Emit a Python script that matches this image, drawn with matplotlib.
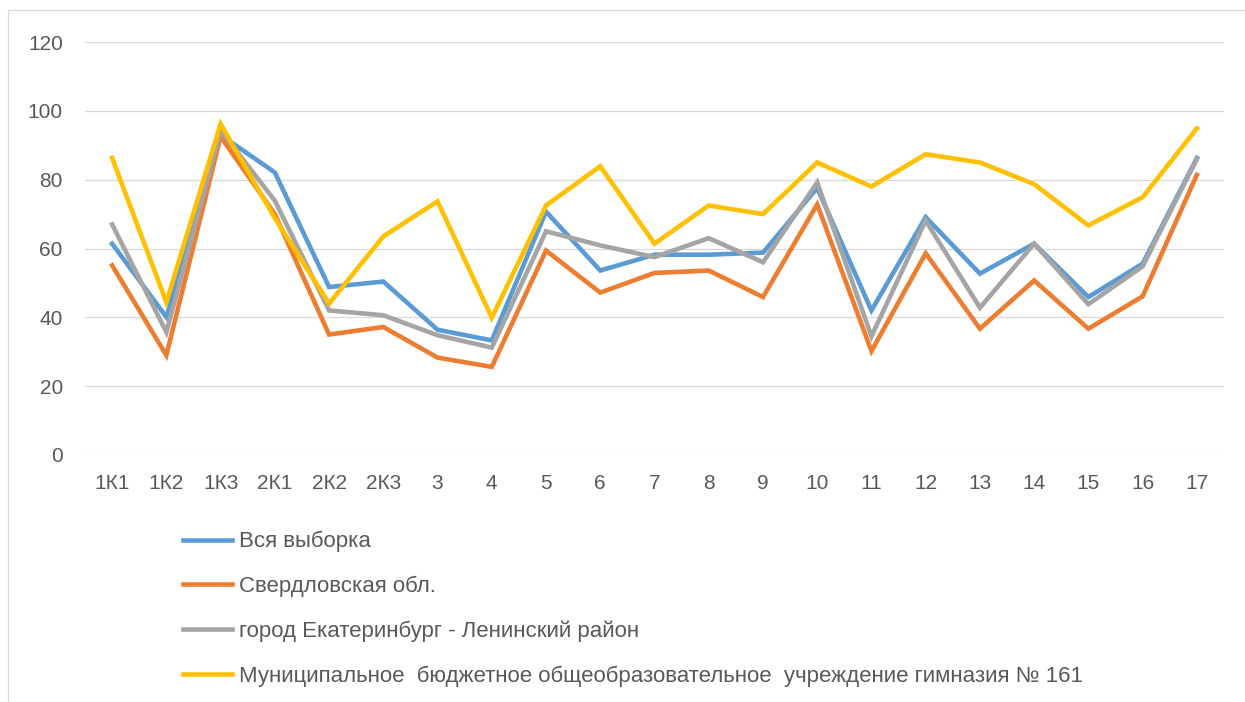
import matplotlib
matplotlib.use('Agg')
import matplotlib.pyplot as plt
from matplotlib.patches import Rectangle

# категории (задания)
categories = ['1К1', '1К2', '1К3', '2К1', '2К2', '2К3', '3', '4', '5', '6', '7', '8',
              '9', '10', '11', '12', '13', '14', '15', '16', '17']

# значения рядов
vsya = [61.4, 40.1, 93.0, 82.1, 48.8, 50.4, 36.4, 33.3, 70.7, 53.6, 58.2, 58.2,
        58.8, 77.6, 42.0, 69.1, 52.7, 61.4, 45.9, 55.6, 86.3]
sverdl = [55.1, 29.0, 92.5, 70.0, 35.0, 37.2, 28.3, 25.6, 59.4, 47.2, 52.9, 53.6,
          45.9, 72.8, 30.2, 58.6, 36.7, 50.7, 36.7, 46.1, 81.4]
ekb = [67.0, 35.7, 94.3, 73.9, 42.0, 40.6, 34.8, 31.2, 65.0, 60.9, 57.5, 63.0,
       56.0, 79.2, 34.5, 68.1, 42.8, 61.4, 43.8, 54.8, 86.0]
gimn = [86.3, 44.4, 96.2, 68.8, 44.0, 63.5, 73.7, 39.9, 72.5, 83.9, 61.4, 72.5,
        70.0, 85.0, 78.0, 87.4, 85.0, 78.7, 66.7, 74.9, 94.9]

names = ['Вся выборка', 'Свердловская обл.', 'город Екатеринбург - Ленинский район',
         'Муниципальное  бюджетное общеобразовательное  учреждение гимназия № 161']
colors = ['#5B9BD5', '#ED7D31', '#A5A5A5', '#FFC000']

plt.rcParams['font.family'] = ['Liberation Sans', 'DejaVu Sans']

fig = plt.figure(figsize=(12.45, 7.02), dpi=100)
ax = fig.add_axes([85 / 1245, 1 - 455 / 702, 1139 / 1245, 413 / 702])

x = list(range(len(categories)))
for vals, name, c in zip([vsya, sverdl, ekb, gimn], names, colors):
    ax.plot(x, vals, color=c, lw=3.3, label=name, solid_joinstyle='miter')

ax.set_xlim(-0.5, len(categories) - 0.5)
ax.set_ylim(0, 120)
ax.set_yticks(range(0, 121, 20))
ax.set_xticks(x)
ax.set_xticklabels(categories)
ax.grid(axis='y', color='#d9d9d9', lw=0.9)
ax.set_axisbelow(True)
for s in ax.spines.values():
    s.set_visible(False)
ax.tick_params(length=0, labelsize=15, colors='#595959')
ax.tick_params(axis='y', pad=16)
ax.tick_params(axis='x', pad=14)

leg = fig.legend(loc='upper left', bbox_to_anchor=(183 / 1245, 1 - 531 / 702),
                 frameon=False, fontsize=16, handlelength=2.2, handletextpad=0.3,
                 labelspacing=1.06, borderpad=0, borderaxespad=0)
for t in leg.get_texts():
    t.set_color('#595959')

# рамка области диаграммы
fig.patches.append(Rectangle((8 / 1245, -0.01), 1.5, 1 - 10 / 702 + 0.01,
                             transform=fig.transFigure, fill=False,
                             edgecolor='#d9d9d9', lw=0.9))

fig.savefig('out.png', dpi=100)
